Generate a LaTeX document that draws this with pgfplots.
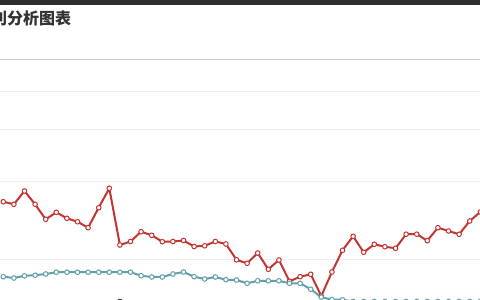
\documentclass[border=0pt]{standalone}
\usepackage{pgfplots}
\pgfplotsset{compat=1.18}
\usepackage{pgfplotstable}
\usepackage{fontspec}
\setmainfont{Liberation Sans}
\newfontfamily\cjk{Noto Sans CJK SC}
\definecolor{ecred}{HTML}{C23531}
\definecolor{ecdark}{HTML}{2F4554}
\definecolor{ecteal}{HTML}{61A0A8}
\definecolor{gridc}{HTML}{EEEEEE}
\definecolor{sepc}{HTML}{CCCCCC}
\definecolor{bandc}{HTML}{2E2E2E}
\definecolor{titlec}{HTML}{333333}

% x: point index, y: value (height above the picture's lower edge, in px)
\pgfplotstableread{
i v
0 98.3
1 95.7
2 109
3 95.7
4 80.7
5 87.7
6 81.7
7 78.3
8 72.3
9 92.3
10 111.7
11 55
12 58.5
13 68.3
14 64.7
15 58.3
16 58.5
17 59.5
18 53.5
19 54.2
20 58.5
21 56
22 40.2
23 36.7
24 47
25 30.7
26 40
27 18.7
28 23.3
29 25.7
30 4
31 28
32 49.7
33 63.7
34 47.7
35 55.7
36 53.3
37 51.7
38 65.8
39 65.8
40 59.3
41 72.3
42 69
43 65.7
44 79
45 88
}\redtab

\pgfplotstableread{
i v
0 -12
1 -12
2 -11
3 -11
4 -10
5 -9
6 -8
7 -8
8 -7
9 -6
10 -5
11 -1.5
12 -6
13 -8
14 -9
15 -10
16 -10
17 -10
18 -11
19 -12
20 -12
21 -12
22 -13
23 -13
24 -13
25 -14
26 -14
27 -14
28 -15
29 -15
30 -16
31 -16
32 -16
33 -16
34 -16
35 -16
36 -16
37 -16
38 -16
39 -16
40 -16
41 -16
42 -16
43 -16
44 -16
45 -16
}\darktab

\pgfplotstableread{
i v
0 23.3
1 22
2 24.2
3 24.8
4 26
5 27.8
6 27.8
7 27.8
8 27.8
9 27.8
10 27.8
11 27.8
12 27.8
13 24.3
14 23
15 23
16 26
17 28
18 23.3
19 21
20 23
21 20.3
22 20
23 16.7
24 19.2
25 19.2
26 19.2
27 16.7
28 16.7
29 10.8
30 2.8
31 0.4
32 0.2
33 -1.5
34 -1.5
35 -1.5
36 -1.5
37 -1.5
38 -1.5
39 -1.5
40 -1.5
41 -1.5
42 -1.5
43 -1.5
44 -1.5
45 -1.5
}\tealtab

\begin{document}
\begin{tikzpicture}
\path[use as bounding box] (0,0) rectangle (480pt,300pt);
\clip (0,0) rectangle (480pt,300pt);
\fill[white] (0,0) rectangle (480pt,300pt);
\begin{axis}[
  at={(0,0)}, anchor=south west,
  scale only axis, width=480pt, height=300pt,
  xmin=-0.311, xmax=44.97,
  ymin=0, ymax=300,
  axis line style={draw=none},
  tick style={draw=none},
  xtick=\empty, xticklabels={},
  ytick={40.7,118.3,170.7,208.3},
  yticklabels={},
  ymajorgrids,
  grid style={gridc, line width=1pt},
  clip=false,
]
\draw[sepc, line width=1pt] (axis cs:-1,240) -- (axis cs:46,240);
\addplot[ecdark, line width=2pt, mark=*, mark size=2.3pt,
  mark options={fill=white, draw=ecdark, line width=1pt}] table[x=i,y=v] {\darktab};
\addplot[ecred, line width=2pt, mark=*, mark size=2.3pt,
  mark options={fill=white, draw=ecred, line width=1pt}] table[x=i,y=v] {\redtab};
\addplot[ecteal, line width=2pt, mark=*, mark size=2.3pt,
  mark options={fill=white, draw=ecteal, line width=1pt}] table[x=i,y=v] {\tealtab};
\end{axis}
\fill[bandc] (0,295pt) rectangle (480pt,300pt);
\node[anchor=west, inner sep=0pt, text=titlec, font={\cjk\bfseries\fontsize{16}{16}\selectfont}]
  at (-25pt,282pt) {毛利分析图表};
\end{tikzpicture}
\end{document}
